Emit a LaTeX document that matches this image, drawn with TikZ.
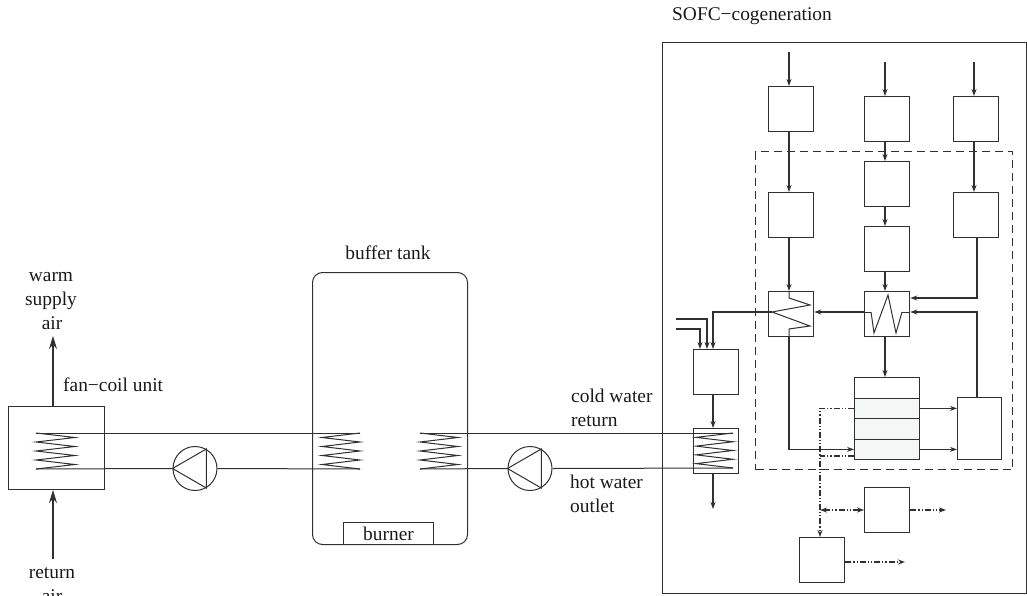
\documentclass[tikz,border=0pt]{standalone}
\usepackage{fontspec}
\setmainfont{Liberation Serif}
\usetikzlibrary{arrows.meta}
\definecolor{ln}{HTML}{303030}
\definecolor{stk}{HTML}{F5F7F6}
\tikzset{
  lnw/.style={draw=ln,line width=1.3pt},
  flw/.style={draw=ln,line width=1.05pt},
  boxn/.style={lnw,rectangle,inner sep=0pt,minimum width=45pt,minimum height=45pt,anchor=north west},
  stackn/.style={lnw,rectangle,inner sep=0pt,minimum width=65pt,minimum height=20.5pt,anchor=north west},
  pumpn/.style={draw=ln,line width=1pt,circle,inner sep=0pt,minimum size=44pt},
  flow/.style={flw,-{Stealth[length=7pt,width=5pt]}},
  bigflow/.style={flw,-{Stealth[length=13pt,width=8pt]}},
  pipe/.style={draw=ln,line width=1pt},
  ctrl/.style={flw,dash pattern=on 6pt off 2pt on 1.2pt off 2pt on 1.2pt off 2pt},
  lab/.style={inner sep=0pt,font=\fontsize{19.4}{22}\selectfont,text=black!90},
}
\newcommand{\mycoil}[5]{% name, start x, far x, top y, bottom y
  \coordinate (#1-t) at (#2,#4);
  \coordinate (#1-b) at (#2,#5);
  \pgfmathsetmacro{\hstep}{(#5-#4)/8}
  \draw[pipe] (#2,#4) -- (#3,#4+\hstep)
    -- (#2,#4+2*\hstep) -- (#3,#4+3*\hstep)
    -- (#2,#4+4*\hstep) -- (#3,#4+5*\hstep)
    -- (#2,#4+6*\hstep) -- (#3,#4+7*\hstep) -- (#2,#5);
}
\begin{document}
\begin{tikzpicture}[x=1pt,y=-1pt]
\useasboundingbox (0,0) rectangle (1027,596);
\clip (0,0) rectangle (1027,596);
% column reference coordinates
\coordinate (p1) at (789,0);
\coordinate (p2) at (885,0);
\coordinate (p3) at (974,0);
\coordinate (p4) at (820,0);
\coordinate (p5) at (977,0);
\coordinate (p6) at (707,0);
\coordinate (p7) at (700,0);
\coordinate (p8) at (713,0);
\coordinate (rowA) at (0,312);
\coordinate (rowB) at (0,298);

% labels
\node[lab,anchor=base] (t1) at (51,281) {warm};
\node[lab,anchor=base] (t2) at (51,305) {supply};
\node[lab,anchor=base] (t3) at (52,329) {air};
\node[lab,anchor=base west] (t4) at (63,391) {fan−coil unit};
\node[lab,anchor=base] (t5) at (52,578) {return};
\node[lab,anchor=base] (t6) at (52,602) {air};
\node[lab,anchor=base] (t7) at (388,259) {buffer tank};
\node[lab,anchor=base west] (t8) at (571,402) {cold water};
\node[lab,anchor=base west] (t9) at (571,426) {return};
\node[lab,anchor=base west] (t10) at (570,488) {hot water};
\node[lab,anchor=base west] (t11) at (570,512) {outlet};
\node[lab,anchor=base west] (t12) at (672,21) {SOFC−cogeneration};

% outer frames
\node[lnw,rectangle,inner sep=0pt,minimum width=364pt,minimum height=551pt,anchor=north west,line width=1.4pt] (frame) at (662,42) {};
\node[flw,rectangle,dash pattern=on 8pt off 5pt,inner sep=0pt,minimum width=257pt,minimum height=318pt,anchor=north west] (dashbox) at (755,151) {};

% fan-coil side
\node[draw=ln,line width=1pt,rectangle,inner sep=0pt,minimum width=96pt,minimum height=83pt,anchor=north west] (fc) at (8,406) {};
\coordinate (upEnd) at (53,336);
\coordinate (retStart) at (53,559);
\draw[bigflow] (fc.north -| upEnd) -- (upEnd);
\draw[bigflow] (retStart) -- (fc.south -| retStart);

% tank
\node[draw=ln,line width=1pt,rectangle,rounded corners=10pt,inner sep=0pt,minimum width=155pt,minimum height=272pt,anchor=north west] (tank) at (312,272) {};
\node[draw=ln,line width=1pt,rectangle,inner sep=0pt,minimum width=90pt,minimum height=22pt,anchor=north west,font=\fontsize{19.4}{22}\selectfont,text=black!90] (burner) at (343,522) {burner};

% coils
\mycoil{cf}{36}{75}{433}{469}
\mycoil{ca}{360}{322}{433}{469}
\mycoil{cb}{420}{458}{433}{469}

% pumps
\node[pumpn] (pump1) at (195,468.5) {};
\draw[pipe] (pump1.west) -- (pump1.60) -- (pump1.-60) -- cycle;
\node[pumpn] (pump2) at (530,468.5) {};
\draw[pipe] (pump2.west) -- (pump2.60) -- (pump2.-60) -- cycle;

% SOFC boxes
\node[boxn] (a1) at (768,86) {};
\node[boxn] (a2) at (864,96) {};
\node[boxn] (a3) at (953,96) {};
\node[boxn] (b1) at (768,192) {};
\node[boxn] (b2) at (864,161) {};
\node[boxn] (b3) at (953,192) {};
\node[boxn] (c2) at (864,226) {};
\node[boxn] (hx1) at (768,291) {};
\node[boxn] (hx2) at (864,291) {};
\node[boxn] (mix) at (693,349) {};
\node[boxn] (hx3) at (693,428) {};
\node[boxn] (b5) at (864,487) {};
\node[boxn] (b6) at (799,537) {};
\node[lnw,rectangle,inner sep=0pt,minimum width=44pt,minimum height=62pt,anchor=north west] (rb) at (957,397) {};
\node[stackn] (s1) at (854,377) {};
\node[stackn,fill=stk] (s2) at (854,397.5) {};
\node[stackn,fill=stk] (s3) at (854,418) {};
\node[stackn,fill=stk] (s4) at (854,438.5) {};

\mycoil{cx}{733}{696}{433}{468}

% water pipes
\draw[pipe] (cf-t) -- (ca-t);
\draw[pipe] (cf-b) -- (pump1.west);
\draw[pipe] (pump1.east) -- (ca-b);
\draw[pipe] (cb-t) -- (cx-t);
\draw[pipe] (cb-b) -- (pump2.west);
\draw[pipe] (pump2.east) -- (cx-b);

% top inlets
\coordinate (i1) at (789,52);
\coordinate (i2) at (885,62);
\coordinate (i3) at (974,62);
\draw[flow] (i1) -- (a1.north -| i1);
\draw[flow] (i2) -- (a2.north -| i2);
\draw[flow] (i3) -- (a3.north -| i3);
\draw[flow] (a1.south -| p1) -- (b1.north -| p1);
\draw[flow] (a2.south -| p2) -- (b2.north -| p2);
\draw[flow] (a3.south -| p3) -- (b3.north -| p3);
\draw[flow] (b2.south -| p2) -- (c2.north -| p2);
\draw[flow] (b1.south -| p1) -- (hx1.north -| p1);
\draw[flow] (c2.south -| p2) -- (hx2.north -| p2);
\draw[flow] (b3.south -| p5) |- (hx2.east |- rowB);

% heat-exchanger internals
\coordinate (z1) at (772,312);
\coordinate (z2) at (871,312);
\coordinate (z3) at (902,312);
\draw[pipe] (hx1.north -| p1) -- (789,298) -- (810,305) -- (z1) -- (810,326) -- (789,329) -- (hx1.south -| p1);
\draw[pipe] (z2) -- (874,333) -- (888,295) -- (896,333) -- (z3);
\draw[flow] (hx2.west |- rowA) -- (hx1.east |- rowA);
\draw[pipe] (hx2.west |- rowA) -- (z2);
\draw[flow] (rb.north -| p5) |- (hx2.east |- rowA);
\draw[pipe] (hx2.east |- rowA) -- (z3);

% mixer
\coordinate (f1) at (676,319);
\coordinate (f2) at (676,329);
\draw[flow] (z1) -| (mix.north -| p8);
\draw[flow] (f1) -| (mix.north -| p6);
\draw[flow] (f2) -| (mix.north -| p7);
\draw[flow] (mix.south -| p8) -- (hx3.north -| p8);
\coordinate (ex) at (713,509);
\draw[flow] (hx3.south -| ex) -- (ex);

% stack connections
\draw[flow] (hx2.south -| p2) -- (s1.north -| p2);
\draw[flow] (hx1.south -| p1) |- (s4.west);
\draw[flow] (s2.east) -- (s2.east -| rb.west);
\draw[flow] (s4.east) -- (s4.east -| rb.west);

% control lines
\coordinate (s4d) at (854,456);
\coordinate (j) at (820,510);
\coordinate (e1) at (946,510);
\coordinate (e2) at (905,562);
\draw[ctrl,-{Stealth[length=7pt,width=5pt]}] (s2.west) -| (b6.north -| p4);
\draw[ctrl] (s4d) -- (s4d -| p4);
\draw[ctrl,{Stealth[length=7pt,width=5pt]}-{Stealth[length=7pt,width=5pt]}] (j) -- (b5.west |- j);
\draw[ctrl,-{Stealth[length=7pt,width=5pt]}] (b5.east |- j) -- (e1);
\draw[ctrl,-{Stealth[length=7pt,width=5pt]}] (b6.east |- e2) -- (e2);
\end{tikzpicture}
\end{document}
